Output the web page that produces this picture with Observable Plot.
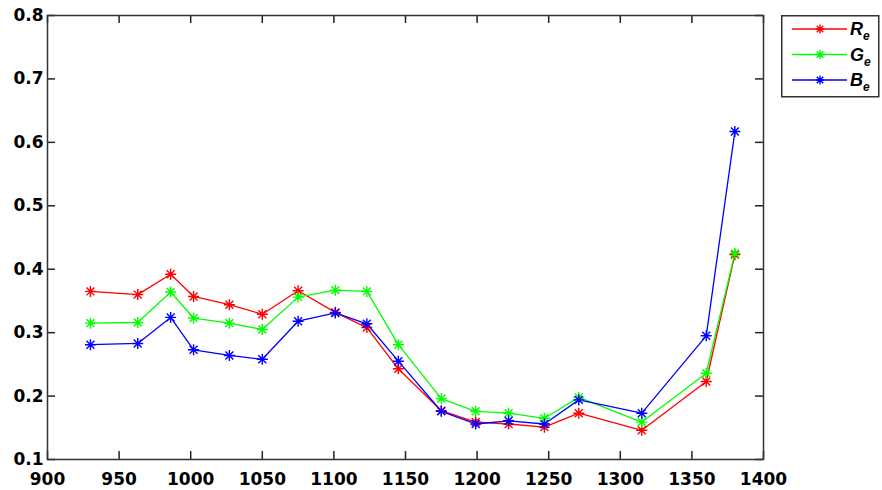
<!DOCTYPE html>
<html>
<head>
<meta charset="utf-8">
<script src="https://cdn.jsdelivr.net/npm/d3@7"></script>
<script src="https://cdn.jsdelivr.net/npm/@observablehq/plot@0.6"></script>
<style>
  html, body { margin: 0; padding: 0; background: #fff; }
  #wrap { position: relative; width: 882px; height: 490px; }
  #legend { position: absolute; left: 781px; top: 15px; }
</style>
</head>
<body>
<div id="wrap"><div id="chart"></div><div id="legend"></div></div>
<script>
// ---- data ----
const wavelengths = [930, 963, 986, 1002, 1027, 1050, 1075, 1101, 1123, 1145, 1175, 1199, 1222, 1247, 1271, 1315, 1360, 1380];
const Re = [0.365, 0.360, 0.392, 0.357, 0.344, 0.329, 0.366, 0.332, 0.308, 0.243, 0.177, 0.159, 0.156, 0.151, 0.173, 0.146, 0.223, 0.423];
const Ge = [0.315, 0.316, 0.364, 0.323, 0.315, 0.305, 0.356, 0.367, 0.365, 0.281, 0.196, 0.176, 0.173, 0.165, 0.198, 0.159, 0.236, 0.425];
const Be = [0.281, 0.283, 0.324, 0.273, 0.264, 0.258, 0.318, 0.331, 0.314, 0.255, 0.176, 0.156, 0.161, 0.156, 0.194, 0.173, 0.295, 0.617];
const seriesNames = ["R", "G", "B"];
const seriesColors = ["#ff0000", "#00ff00", "#0000ff"];
const xTicks = [900, 950, 1000, 1050, 1100, 1150, 1200, 1250, 1300, 1350, 1400];
const yTicks = [0.1, 0.2, 0.3, 0.4, 0.5, 0.6, 0.7, 0.8];

const seriesValues = [Re, Ge, Be];
const rows = [];
seriesNames.forEach((s, k) => wavelengths.forEach((w, i) => rows.push({series: s, x: w, y: seriesValues[k][i]})));

// MATLAB-style '*' marker: + overlaid with x
const asterisk = {
  draw(ctx, size) {
    const r = Math.sqrt(size / Math.PI);
    const d = r * 0.72;
    ctx.moveTo(-r, 0); ctx.lineTo(r, 0);
    ctx.moveTo(0, -r); ctx.lineTo(0, r);
    ctx.moveTo(-d, -d); ctx.lineTo(d, d);
    ctx.moveTo(-d, d); ctx.lineTo(d, -d);
  }
};

const W = 882, H = 490, ML = 47, MR = 119, MT = 15, MB = 31;
const TICK = 8;
const innerW = W - ML - MR, innerH = H - MT - MB;
const font = "DejaVu Sans, sans-serif";
const chart = Plot.plot({
  width: W,
  height: H,
  marginLeft: ML,
  marginRight: MR,
  marginTop: MT,
  marginBottom: MB,
  style: {fontFamily: font, fontSize: "17px", fontWeight: "bold", color: "#000", background: "#fff"},
  x: {domain: [900, 1400], ticks: xTicks, label: null},
  y: {domain: [0.1, 0.8], ticks: yTicks, label: null},
  color: {domain: seriesNames, range: seriesColors},
  marks: [
    // inner ticks on all four sides
    Plot.tickX(xTicks, {x: d => d, insetTop: innerH - TICK, stroke: "#222", strokeWidth: 1.5}),
    Plot.tickX(xTicks, {x: d => d, insetBottom: innerH - TICK, stroke: "#222", strokeWidth: 1.5}),
    Plot.tickY(yTicks, {y: d => d, insetRight: innerW - TICK, stroke: "#222", strokeWidth: 1.5}),
    Plot.tickY(yTicks, {y: d => d, insetLeft: innerW - TICK, stroke: "#222", strokeWidth: 1.5}),
    // tick labels
    Plot.axisX(xTicks, {anchor: "bottom", tickSize: 0, tickPadding: 13, tickFormat: d3.format("d"), label: null, fill: "#000"}),
    Plot.axisY(yTicks, {anchor: "left", tickSize: 0, tickPadding: 4, tickFormat: d3.format(".1f"), label: null, fill: "#000"}),
    Plot.frame({stroke: "#333", strokeWidth: 1.5}),
    Plot.line(rows, {x: "x", y: "y", z: "series", stroke: "series", strokeWidth: 1.3}),
    Plot.dot(rows, {x: "x", y: "y", stroke: "series", symbol: asterisk, r: 5.5, strokeWidth: 1.4})
  ]
});
document.getElementById("chart").appendChild(chart);

// ---- legend ----
const lg = d3.select("#legend").append("svg").attr("width", 99).attr("height", 83)
  .style("font-family", "Liberation Sans, Arial, sans-serif");
lg.append("rect").attr("x", 0.75).attr("y", 0.75).attr("width", 97).attr("height", 81)
  .attr("fill", "#fff").attr("stroke", "#333").attr("stroke-width", 1.5);
const markerPath = (() => { const p = d3.path(); asterisk.draw(p, 4.5 * 4.5 * Math.PI); return p.toString(); })();
seriesNames.forEach((s, i) => {
  const y = 14 + i * 25.5;
  const g = lg.append("g");
  g.append("line").attr("x1", 11).attr("x2", 66).attr("y1", y).attr("y2", y)
    .attr("stroke", seriesColors[i]).attr("stroke-width", 1.3);
  g.append("path").attr("d", markerPath).attr("transform", `translate(39,${y})`)
    .attr("stroke", seriesColors[i]).attr("stroke-width", 1.4).attr("fill", "none");
  const t = g.append("text").attr("x", 69).attr("y", y + 6).attr("font-size", 18)
    .attr("font-style", "italic").attr("font-weight", "bold").attr("fill", "#000");
  t.append("tspan").text(s);
  t.append("tspan").attr("font-size", 12).attr("dy", 5).text("e");
});
</script>
</body>
</html>
